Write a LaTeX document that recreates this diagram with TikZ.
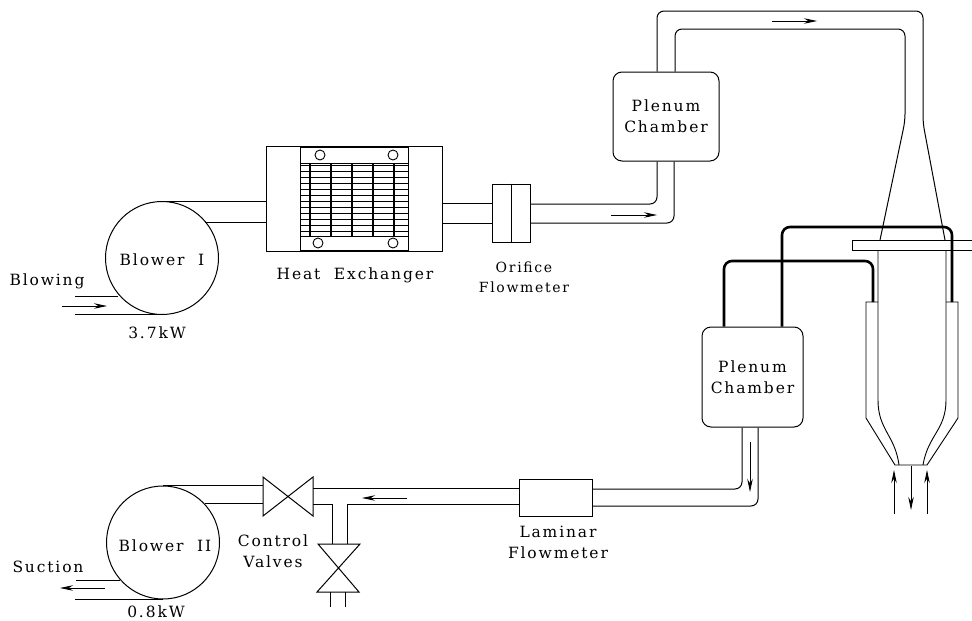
\documentclass[tikz,border=0pt]{standalone}
\usepackage{fontspec}
\setmainfont[LetterSpace=12]{DejaVu Serif}
\usetikzlibrary{arrows.meta,positioning,calc}
\tikzset{
  pipe/.style={line width=1pt, rounded corners=7pt},
  hose/.style={line width=2.6pt, rounded corners=8pt},
  flowarr/.style={-{Stealth[length=13pt,width=5.5pt]}, line width=0.8pt},
  blow/.style={circle, draw, line width=1pt, minimum size=113pt, inner sep=0pt},
  ple/.style={draw, line width=1pt, rounded corners=9pt, inner sep=0pt, align=center, font=\lbl},
  blk/.style={draw, line width=1pt, inner sep=0pt},
  lab/.style={font=\lbl, align=center, inner sep=0pt},
  bolt/.style={circle, draw, line width=0.9pt, minimum size=10pt, inner sep=0pt},
  wall/.style={line width=0.9pt},
}
\newcommand{\lbl}{\fontsize{15.5}{21}\selectfont}
\newcommand{\lblsm}{\fontsize{14}{19.5}\selectfont}
\begin{document}
\begin{tikzpicture}[x=1pt, y=-1pt]
  \useasboundingbox (0,0) rectangle (972,621);
  % upper line
  \node[blow] (blowI) at (162,258) {};
  \node[blk, minimum width=176pt, minimum height=105pt] (hx) at (354,198.5) {};
  \node[blk, minimum width=108pt, minimum height=103pt] (core) at (354,198.5) {};
  \node[blk, minimum width=38pt, minimum height=58pt] (ori) at (511,213) {};
  \node[ple, minimum width=106pt, minimum height=89pt] (pleA) at (666,116.5) {Plenum\\Chamber};
  \draw[line width=0.9pt] (ori.north) -- (ori.south);
  \node[bolt] (b1) at (320,155) {};
  \node[bolt] (b2) at (393,155) {};
  \node[bolt] (b3) at (318,243) {};
  \node[bolt] (b4) at (393,243) {};
  \foreach \y in {165,171,...,235}
    \draw[line width=0.9pt] (300,\y) -- (408,\y);
  \draw[line width=0.9pt] (300,163) -- (408,163) (300,236) -- (408,236);
  \foreach \x in {310,331,352,373,394}
    \draw[line width=1.1pt] (\x,163) -- (\x,236);

  \draw[pipe] (blowI.north) -- (hx.west |- blowI.north);
  \draw[pipe] (205,222) -- (hx.west |- 205,222);
  \draw[pipe] (hx.east |- 0,203) -- (ori.west |- 0,203);
  \draw[pipe] (hx.east |- 0,223) -- (ori.west |- 0,223);
  \draw[pipe] (ori.east |- 0,204) -- (657,204) -- (pleA.south -| 657,0);
  \draw[pipe] (ori.east |- 0,223) -- (674,223) -- (pleA.south -| 674,0);
  \draw[pipe] (pleA.north -| 657,0) -- (657,11) -- (923,11) -- (923,123) -- (945,240);
  \draw[pipe] (pleA.north -| 675,0) -- (675,29) -- (905,29) -- (905,121) -- (880,240);

  % blower I inlet
  \draw[pipe] (75,296) -- (118,296);
  \draw[pipe] (75,314) -- (162,314);

  % test section
  \node[blk, minimum width=120pt, minimum height=10pt, anchor=north west] (plate) at (852,240) {};
  \draw[wall] (878,250) -- (878,400) .. controls (878,430) and (895,435) .. (899,465);
  \draw[wall] (946,250) -- (946,400) .. controls (946,430) and (928,435) .. (923,465);
  \draw[wall] (878,302) -- (866,302) -- (866,418) -- (895,465) -- (927,465) -- (958,418) -- (958,302) -- (946,302);

  % lower line
  \node[ple, minimum width=101pt, minimum height=100pt] (pleB) at (752.5,377) {Plenum\\Chamber};
  \node[blk, minimum width=73pt, minimum height=37pt] (lam) at (555.5,497.5) {};
  \node[blow] (blowII) at (163,542.5) {};
  \coordinate (vAa) at (263,477);
  \coordinate (vAb) at (313,516);
  \coordinate (vAc) at (313,477);
  \coordinate (vAd) at (263,516);
  \coordinate (vBa) at (318,544);
  \coordinate (vBb) at (359,592);
  \coordinate (vBc) at (360,544);
  \coordinate (vBd) at (317,592);
  \draw[line width=1pt] (vAa) -- (vAb) -- (vAc) -- (vAd) -- cycle;
  \draw[line width=1pt] (vBa) -- (vBb) -- (vBd) -- (vBc) -- cycle;

  \draw[hose] (pleB.north -| 724,0) -- (724,261) -- (873,261) -- (873,302);
  \draw[hose] (pleB.north -| 782,0) -- (782,227) -- (952,227) -- (952,302);

  \draw[pipe] (pleB.south -| 742,0) -- (742,489) -- (lam.east |- 0,489);
  \draw[pipe] (pleB.south -| 758,0) -- (758,506) -- (lam.east |- 0,506);
  \draw[pipe] (lam.west |- 0,488) -- (313,488);
  \draw[pipe, rounded corners=0pt] (lam.west |- 0,504) -- (347,504) -- (347,544);
  \draw[pipe, rounded corners=0pt] (313,504) -- (332,504) -- (332,544);
  \draw[pipe] (blowII.north) -- (vAa |- blowII.north);
  \draw[pipe] (205,503) -- (263,503);
  \draw[pipe] (330,592) -- (330,607);
  \draw[pipe] (345,592) -- (345,607);
  \draw[pipe] (76,580) -- (120,580);
  \draw[pipe] (blowII.south -| 75,0) -- (blowII.south);

  % flow directions
  \draw[flowarr] (62,306) -- (107,306);
  \draw[flowarr] (611,215) -- (657,215);
  \draw[flowarr] (772,21) -- (817,21);
  \draw[flowarr] (750,442) -- (750,492);
  \draw[flowarr] (407,498) -- (362,498);
  \draw[flowarr] (105,588) -- (60,588);
  \draw[flowarr] (894,514) -- (894,470);
  \draw[flowarr] (911,466) -- (911,510);
  \draw[flowarr] (927,514) -- (927,470);

  % labels
  \node[lab] (tBlowI) at (blowI) [yshift=-2pt] {Blower\ \ I};
  \node[lab] (tBlowing) at (47,281) {Blowing};
  \node[lab] (tPowI) at (157,333) {3.7kW};
  \node[lab] (tHx) at (355,275) {Heat\ \ Exchanger};
  \node[lab, font=\lblsm] (tOri) at (524,277.5) {Orifice\\Flowmeter};
  \node[lab] (tBlowII) at (165,546) {Blower\ \ II};
  \node[lab] (tSuc) at (48,567) {Suction};
  \node[lab] (tPowII) at (156,612) {0.8kW};
  \node[lab] (tVal) at (273,551) {Control\\Valves};
  \node[lab] (tLam) at (558,542.5) {Laminar\\Flowmeter};
\end{tikzpicture}
\end{document}
